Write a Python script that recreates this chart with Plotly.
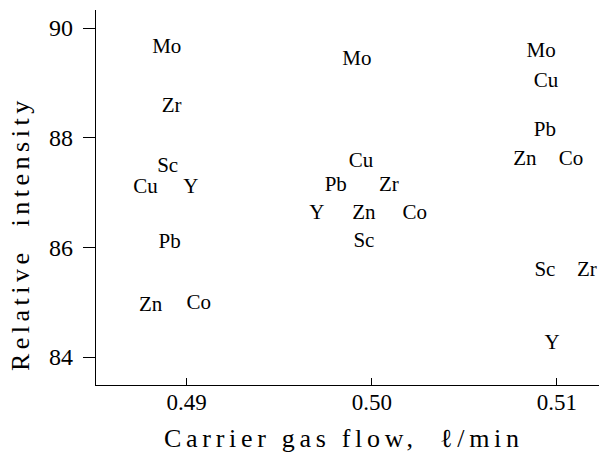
import plotly.graph_objects as go

elements = ["Mo", "Zr", "Sc", "Cu", "Y", "Pb", "Zn", "Co",
            "Mo", "Cu", "Pb", "Zr", "Y", "Zn", "Co", "Sc",
            "Mo", "Cu", "Pb", "Zn", "Co", "Sc", "Zr", "Y"]
flow = [0.48892, 0.48919, 0.48897, 0.48778, 0.49022, 0.48908, 0.48805, 0.49065,
        0.49919, 0.49941, 0.49805, 0.50092, 0.49703, 0.49957, 0.50232, 0.49957,
        0.50914, 0.50941, 0.50935, 0.50827, 0.51076, 0.50935, 0.51162, 0.50973]
intensity = [89.65, 88.56, 87.48, 87.08, 87.08, 86.08, 84.93, 84.98,
             89.42, 87.57, 87.12, 87.12, 86.62, 86.62, 86.62, 86.11,
             89.56, 89.03, 88.12, 87.59, 87.59, 85.57, 85.57, 84.25]
x_ticks = [0.49, 0.50, 0.51]
x_tick_labels = ["0.49", "0.50", "0.51"]
y_ticks = [84, 86, 88, 90]
x_title = "Carrier gas flow,  \u2113/min"
y_title = "Relative  intensity"

font_family = "Liberation Serif, Times New Roman, serif"

fig = go.Figure(go.Scatter(
    x=flow, y=intensity, text=elements, mode="text",
    textposition="middle center",
    textfont=dict(family=font_family, size=21, color="black"),
    hoverinfo="skip", showlegend=False, cliponaxis=False,
))

fig.update_layout(
    width=599, height=454,
    margin=dict(l=96, r=0, t=10, b=69),
    paper_bgcolor="white", plot_bgcolor="white",
    font=dict(family=font_family, color="black"),
    xaxis=dict(
        range=[0.4851, 0.51227],
        tickvals=x_ticks, ticktext=x_tick_labels,
        ticks="inside", ticklen=7, tickcolor="black",
        showline=True, linecolor="black", linewidth=1.3,
        showgrid=False, zeroline=False, automargin=False,
        tickfont=dict(family=font_family, size=23),
        ticklabelstandoff=-4,
    ),
    yaxis=dict(
        range=[83.49, 90.33],
        tickvals=y_ticks,
        ticks="outside", ticklen=12, tickcolor="black",
        showline=True, linecolor="black", linewidth=1.3,
        showgrid=False, zeroline=False, automargin=False,
        tickfont=dict(family=font_family, size=24),
        ticklabelstandoff=5,
    ),
    annotations=[
        dict(text='<span style="letter-spacing:4.7px">' + x_title + '</span>',
             xref="paper", yref="paper", x=0.493, y=-0.144,
             xanchor="center", yanchor="middle", showarrow=False,
             font=dict(family=font_family, size=26, color="black")),
        dict(text='<span style="letter-spacing:4.5px">' + y_title + '</span>',
             xref="paper", yref="paper", x=-0.149, y=0.4027,
             xanchor="center", yanchor="middle", showarrow=False, textangle=-90,
             font=dict(family=font_family, size=26, color="black")),
    ],
)

fig.write_html("out.html",
               config={"displayModeBar": False},
               post_script="document.body.style.margin='0';document.body.style.overflow='hidden';")
